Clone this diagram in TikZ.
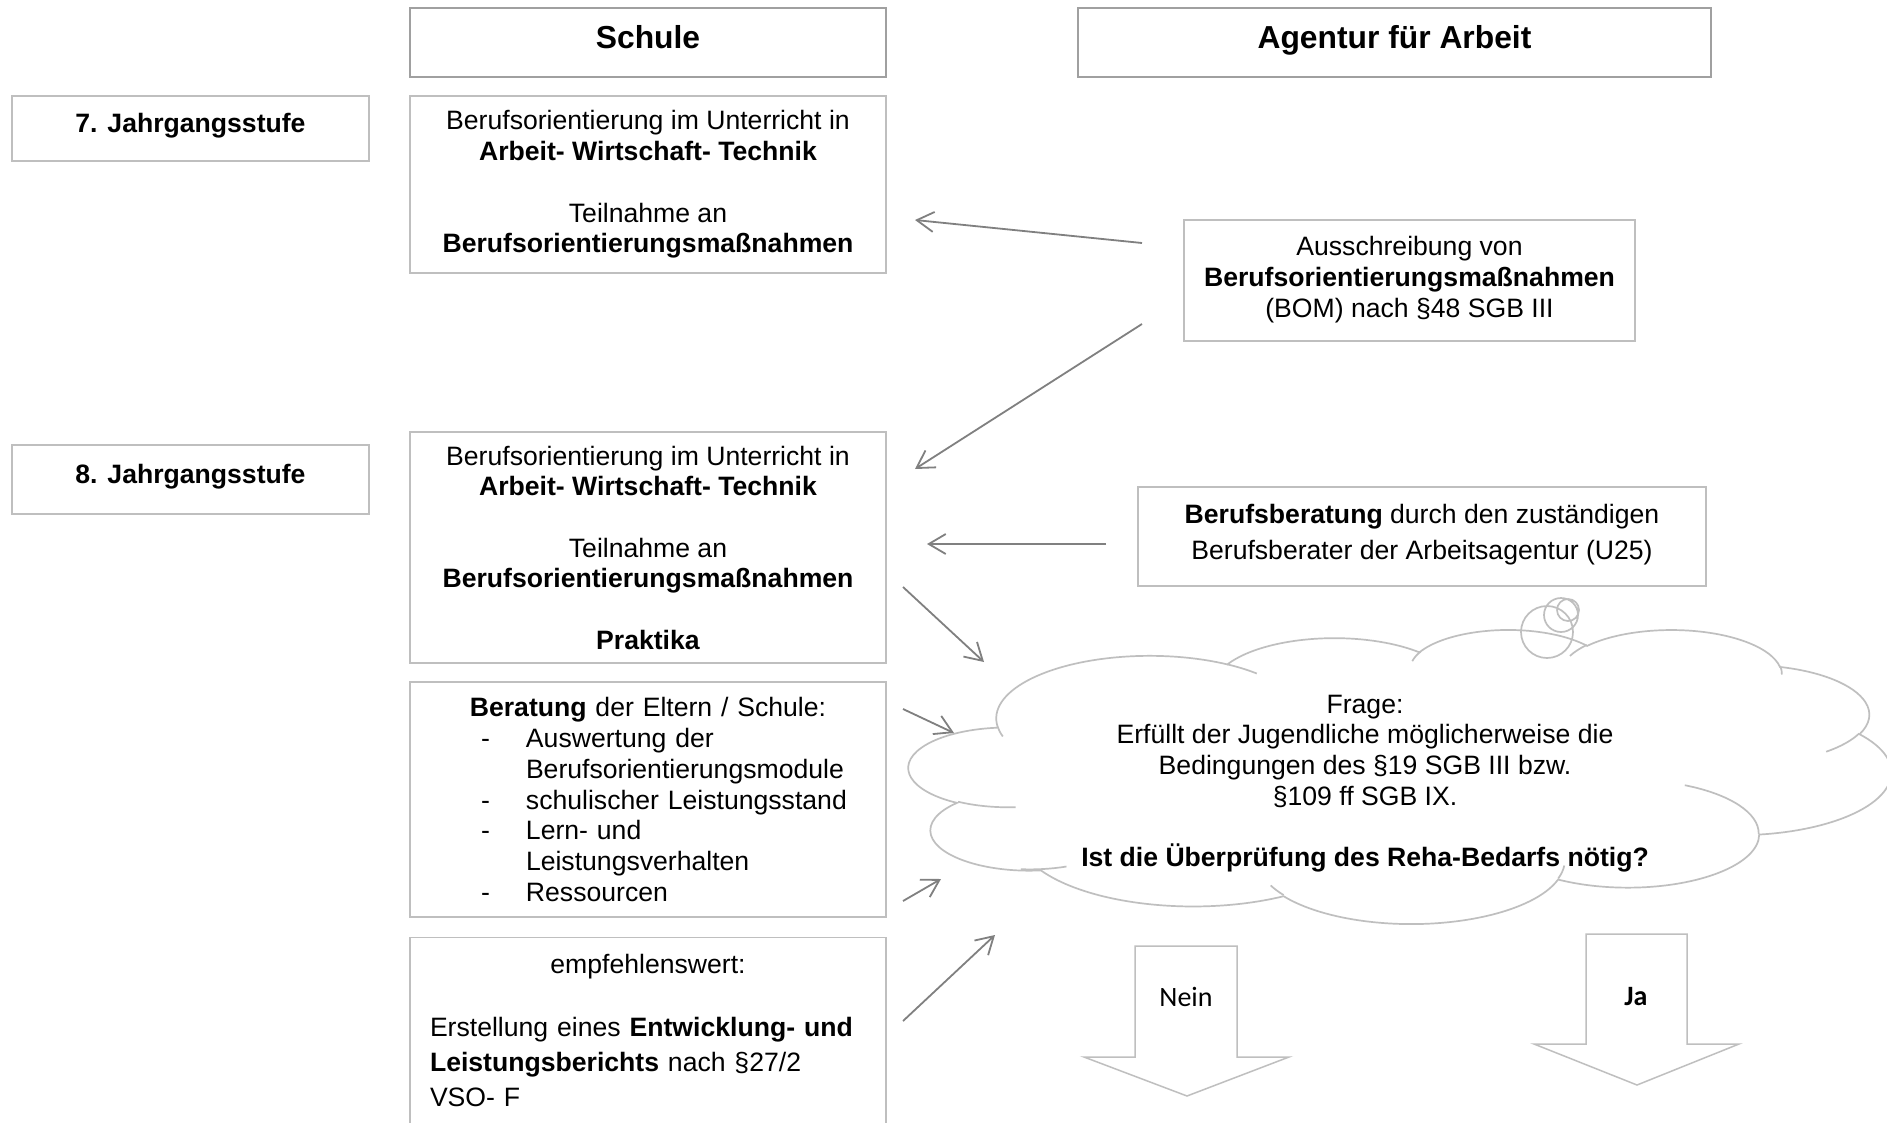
\documentclass[tikz,border=0pt]{standalone}
\usepackage{fontspec}
\setmainfont{Liberation Sans}
\newfontfamily\calibri{Carlito}
\usepackage{tikz}
\usetikzlibrary{arrows.meta}
\definecolor{boxgray}{RGB}{191,191,191}
\definecolor{headgray}{RGB}{160,160,160}
\definecolor{arrowgray}{RGB}{128,128,128}

\begin{document}
\begin{tikzpicture}[
      x = 1pt, y = -1pt,
      every node/.style = {font = \fontsize{26.6pt}{30.7pt}\selectfont, inner sep = 0pt},
      box/.style = {draw = boxgray, line width = 1.3pt, rectangle, align = center},
      head/.style = {draw = headgray, line width = 2.5pt, rectangle, minimum height = 69pt,
            font = \fontsize{31.8pt}{36pt}\selectfont\bfseries, text height = 24pt, text depth = 12pt},
      stufe/.style = {box, minimum width = 357pt, font = \fontsize{26.6pt}{30.7pt}\selectfont\bfseries,
            text height = 20pt, text depth = 12pt},
      pfeil/.style = {draw = arrowgray, line width = 1.8pt, -{Straight Barb[length = 17pt, width = 20pt]}},
      cloudline/.style = {draw = boxgray, line width = 1.7pt},
      blockarrow/.style = {draw = boxgray, line width = 1.5pt, line join = miter}
      ]
      \useasboundingbox[fill = white] (0,0) rectangle (1887,1122);

      \node (schule) [head, minimum width = 476pt] at (648,42.5) {Schule};
      \node (agentur) [head, minimum width = 633pt] at (1394.5,42.5) {Agentur für Arbeit};

      \node (jg7) [stufe, minimum height = 65pt] at (190.5,128.5) {7. Jahrgangsstufe};
      \node (jg8) [stufe, minimum height = 69pt] at (190.5,479.5) {8. Jahrgangsstufe};

      \node (bo7) [box, minimum width = 476pt, minimum height = 177pt] at (648,184.5)
            {Berufsorientierung im Unterricht in\\ \textbf{Arbeit- Wirtschaft- Technik}\\[30.7pt]
             Teilnahme an\\ \textbf{Berufsorientierungsmaßnahmen}};
      \node (bo8) [box, minimum width = 476pt, minimum height = 231pt, text depth = -4pt] at (648,547.5)
            {Berufsorientierung im Unterricht in\\ \textbf{Arbeit- Wirtschaft- Technik}\\[30.7pt]
             Teilnahme an\\ \textbf{Berufsorientierungsmaßnahmen}\\[30.7pt] \textbf{Praktika}};
      \node (ber) [box, align = left, text width = 436pt, minimum width = 476pt, minimum height = 235pt] at (648,799.5)
            {\makebox[\linewidth]{\textbf{Beratung} der Eltern / Schule:}\\
             \hspace*{51pt}\makebox[45pt][l]{-}Auswertung der\\
             \hspace*{96pt}Berufsorientierungsmodule\\
             \hspace*{51pt}\makebox[45pt][l]{-}schulischer Leistungsstand\\
             \hspace*{51pt}\makebox[45pt][l]{-}Lern- und\\
             \hspace*{96pt}Leistungsverhalten\\
             \hspace*{51pt}\makebox[45pt][l]{-}Ressourcen};
      \node (emp) [box, align = left, text width = 436pt, minimum width = 476pt, inner ysep = 17pt,
            text depth = 230pt, anchor = north] at (648,937)
            {\makebox[\linewidth]{empfehlenswert:}\\[31.9pt]
             Erstellung eines \textbf{Entwicklung- und}\\[4.2pt]
             \textbf{Leistungsberichts} nach §27/2\\[4.2pt]
             VSO- F};

      \node (aus) [box, minimum width = 451pt, minimum height = 121pt, text depth = 7.4pt] at (1409.5,280.5)
            {Ausschreibung von\\ \textbf{Berufsorientierungsmaßnahmen}\\ (BOM) nach §48 SGB III};
      \node (bb) [box, minimum width = 568pt, minimum height = 99pt, text depth = 8.6pt] at (1422,536.5)
            {\textbf{Berufsberatung} durch den zuständigen\\[5.4pt] Berufsberater der Arbeitsagentur (U25)};

      \begin{scope}[shift = {(909,629)}, x = 2.2731pt, y = -0.68056pt]
            \draw[cloudline] (39,143.7)
                  \foreach \rx/\ry/\sa/\da in {67.53/91.90/-190.4875/123.7805, 53.33/72.67/-144.1024/89.9452,
                        43.65/59.45/-145.8079/99.7230, 48.57/65.95/-130.9861/117.2417,
                        53.33/72.73/-78.7089/109.0269, 67.75/92.20/-46.2673/130.2690,
                        57.85/78.67/0.6250/114.0333, 67.52/92.15/22.4516/115.1726,
                        77.20/105.43/66.2426/75.7110, 43.60/59.18/-274.9421/146.7356,
                        43.45/59.45/-246.8285/152.5189}
                  {arc [start angle = {atan2(\rx*sin(\sa),\ry*cos(\sa))},
                        delta angle = {mod(atan2(\rx*sin(\sa+\da),\ry*cos(\sa+\da)) - atan2(\rx*sin(\sa),\ry*cos(\sa)) + 720,360)},
                        x radius = \rx, y radius = \ry]}
                  -- cycle;
            \draw[cloudline]
                  \foreach \px/\py/\rx/\ry/\sa/\da in {46.93/261.77/43.45/59.45/86.742/26.4295,
                        69.28/348.99/43.60/59.18/73.6105/20.1984, 164.78/390.90/67.52/92.15/137.6242/11.4397,
                        288.27/347.51/67.52/92.15/6.4533/15.9984, 341.29/229.54/57.85/78.67/-70.2924/70.9174,
                        417.98/153.54/53.33/72.73/30.3180/27.7515, 383.24/54.26/48.57/65.95/-13.7443/14.8589,
                        290.78/39.52/48.57/65.95/-149.1815/18.1954, 221.41/47.20/43.65/59.45/-163.4943/17.6864,
                        140.00/51.92/67.53/91.90/-66.7070/12.3194, 41.27/157.89/67.53/91.90/157.6544/11.8582}
                  {(\px,\py) arc [start angle = {atan2(\rx*sin(\sa),\ry*cos(\sa))},
                        delta angle = {mod(atan2(\rx*sin(\sa+\da),\ry*cos(\sa+\da)) - atan2(\rx*sin(\sa),\ry*cos(\sa)) + 720,360)},
                        x radius = \rx, y radius = \ry]};
      \end{scope}
      \draw[cloudline] (1547,632) circle [radius = 26] (1561,615) circle [radius = 17] (1568,610) circle [radius = 11];

      \node (frage) [align = center] at (1365,783.6)
            {Frage:\\ Erfüllt der Jugendliche möglicherweise die\\ Bedingungen des §19 SGB III bzw.\\
             §109 ff SGB IX.\\[30.7pt] \textbf{Ist die Überprüfung des Reha-Bedarfs nötig?}};

      \draw[blockarrow] (1135,946) -- (1237,946) -- (1237,1057) -- (1289,1057) -- (1187,1096)
            -- (1084,1057) -- (1135,1057) -- cycle;
      \draw[blockarrow] (1586,934) -- (1687,934) -- (1687,1044) -- (1739,1044) -- (1637,1085)
            -- (1534,1044) -- (1586,1044) -- cycle;
      \node (nein) [font = \fontsize{28pt}{32pt}\selectfont\calibri] at (1186,997) {Nein};
      \node (ja) [font = \fontsize{28pt}{32pt}\selectfont\calibri\bfseries] at (1636,997) {Ja};

      \coordinate (a1s) at (1142,243);  \coordinate (a1e) at (915,220);
      \coordinate (a2s) at (1142,324);  \coordinate (a2e) at (915,469);
      \coordinate (a3s) at (1106,544);  \coordinate (a3e) at (927,544);
      \coordinate (a4s) at (903,587);   \coordinate (a4e) at (984,662);
      \coordinate (a5s) at (903,709);   \coordinate (a5e) at (954,733);
      \coordinate (a6s) at (903,901);   \coordinate (a6e) at (941,879);
      \coordinate (a7s) at (903,1021);  \coordinate (a7e) at (995,935);
      \foreach \n in {1,...,7}
            \draw[pfeil] (a\n s) -- (a\n e);
\end{tikzpicture}
\end{document}
